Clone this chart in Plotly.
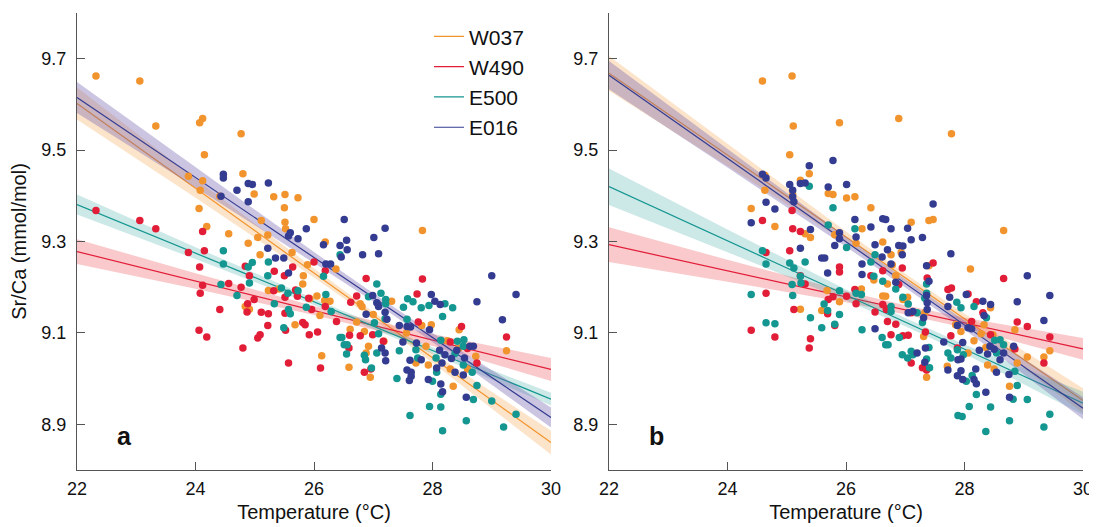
import plotly.graph_objects as go
from plotly.subplots import make_subplots

# Sr/Ca vs temperature, panel a and panel b, (temperature, Sr/Ca) pairs
a_w037 = [(22.32, 9.662), (23.06, 9.651), (23.33, 9.553), (24.07, 9.560), (24.12, 9.569), (24.15, 9.490),
          (24.77, 9.536), (23.88, 9.443), (24.08, 9.412), (24.12, 9.433), (24.80, 9.448), (24.99, 9.404),
          (24.41, 9.399), (24.06, 9.372), (24.19, 9.333), (24.56, 9.317), (25.32, 9.398), (25.51, 9.403),
          (25.73, 9.396), (25.50, 9.374), (25.11, 9.346), (25.51, 9.342), (25.52, 9.328), (26.00, 9.348),
          (25.22, 9.314), (25.05, 9.309), (24.89, 9.296), (26.19, 9.299), (25.09, 9.271), (25.63, 9.276),
          (25.89, 9.249), (25.82, 9.225), (25.81, 9.207), (26.37, 9.240), (25.41, 9.196), (25.23, 9.193),
          (24.84, 9.158), (24.91, 9.152), (25.68, 9.118), (25.93, 9.175), (26.05, 9.181), (26.27, 9.169),
          (26.18, 9.171), (26.10, 9.138), (26.61, 9.108), (26.78, 9.164), (26.81, 9.158), (26.72, 9.124),
          (26.85, 9.103), (27.00, 9.140), (26.13, 9.050), (26.59, 9.025), (26.88, 9.056), (26.92, 9.071),
          (26.95, 9.003), (27.18, 9.082), (27.31, 9.169), (27.83, 9.324), (27.82, 9.116), (27.98, 9.118),
          (27.89, 9.071), (27.93, 9.030), (27.72, 9.034), (27.56, 9.100), (28.25, 9.083), (28.30, 9.021),
          (28.35, 8.983), (28.45, 9.107), (28.44, 9.066), (28.59, 9.021), (28.73, 9.049), (29.25, 9.061)]
a_w490 = [(22.32, 9.368), (23.06, 9.346), (23.33, 9.328), (23.88, 9.276), (24.12, 9.322), (24.15, 9.280),
          (24.07, 9.244), (24.12, 9.204), (24.08, 9.187), (24.41, 9.151), (24.06, 9.106), (24.19, 9.091),
          (24.56, 9.208), (24.77, 9.200), (24.84, 9.246), (24.91, 9.225), (24.88, 9.164), (24.87, 9.146),
          (24.80, 9.067), (24.99, 9.173), (25.11, 9.145), (25.23, 9.142), (25.22, 9.116), (25.09, 9.096),
          (25.05, 9.089), (25.32, 9.192), (25.33, 9.235), (25.50, 9.225), (25.64, 9.244), (25.51, 9.178),
          (25.51, 9.143), (25.52, 9.106), (25.72, 9.180), (25.69, 9.194), (25.57, 9.034), (25.81, 9.123),
          (25.85, 9.118), (25.91, 9.176), (25.96, 9.151), (25.92, 9.096), (26.00, 9.255), (26.06, 9.102),
          (26.11, 9.023), (26.19, 9.236), (26.19, 9.158), (26.38, 9.125), (26.60, 9.095), (26.62, 9.167),
          (26.59, 9.067), (26.72, 9.181), (26.78, 9.094), (26.85, 9.014), (26.88, 9.219), (26.96, 9.021),
          (26.99, 9.096), (27.17, 9.082), (27.74, 9.185), (27.76, 9.124), (27.83, 9.218), (28.30, 9.080),
          (28.49, 9.114), (28.59, 9.066), (28.75, 9.034), (29.25, 9.091)]
a_e500 = [(24.47, 9.280), (24.47, 9.251), (24.43, 9.206), (24.70, 9.182), (24.96, 9.254), (24.89, 9.244),
          (24.91, 9.209), (25.23, 9.255), (25.22, 9.225), (25.33, 9.164), (25.45, 9.198), (25.49, 9.111),
          (25.56, 9.187), (25.57, 9.151), (25.60, 9.142), (25.73, 9.192), (25.87, 9.156), (26.16, 9.224),
          (26.20, 9.184), (26.29, 9.147), (26.44, 9.271), (26.44, 9.090), (26.47, 9.090), (26.51, 9.074),
          (26.56, 9.074), (26.55, 9.054), (26.85, 9.051), (26.87, 9.041), (26.97, 9.023), (26.92, 9.179),
          (27.06, 9.207), (27.13, 9.187), (27.02, 9.122), (27.09, 9.098), (27.06, 9.056), (27.21, 9.173),
          (27.21, 9.164), (27.20, 9.131), (27.40, 9.000), (27.44, 9.061), (27.51, 9.156), (27.58, 9.175),
          (27.57, 9.130), (27.67, 9.168), (27.62, 8.919), (27.72, 9.063), (27.75, 9.045), (27.81, 9.155),
          (27.94, 9.160), (28.00, 8.994), (27.95, 8.939), (28.06, 9.045), (28.07, 9.014), (28.14, 9.084),
          (28.14, 8.966), (28.14, 8.938), (28.17, 8.886), (28.17, 9.136), (28.21, 9.164), (28.34, 9.155),
          (28.38, 9.055), (28.42, 9.082), (28.52, 9.071), (28.53, 9.085), (28.52, 9.030), (28.57, 8.908),
          (28.67, 9.014), (28.69, 8.954), (28.75, 8.985), (29.00, 8.951), (29.20, 8.894), (29.41, 8.922)]
a_e016 = [(24.47, 9.447), (24.47, 9.439), (24.43, 9.399), (24.70, 9.412), (24.89, 9.427), (24.96, 9.425),
          (24.89, 9.387), (25.23, 9.428), (25.60, 9.319), (25.57, 9.312), (25.73, 9.306), (25.87, 9.328),
          (25.22, 9.285), (25.35, 9.264), (25.49, 9.264), (25.57, 9.231), (26.16, 9.293), (26.20, 9.251),
          (26.28, 9.251), (26.51, 9.348), (26.55, 9.303), (26.56, 9.282), (26.44, 9.291), (26.46, 9.266),
          (26.82, 9.271), (27.01, 9.309), (27.09, 9.273), (27.20, 9.329), (26.99, 9.182), (26.88, 9.141),
          (27.06, 9.166), (27.09, 9.158), (27.20, 9.145), (27.23, 9.130), (27.14, 9.067), (27.21, 9.039),
          (27.20, 9.056), (27.44, 9.116), (27.50, 9.080), (27.57, 9.114), (27.63, 9.113), (27.62, 9.040),
          (27.57, 9.019), (27.64, 9.014), (27.64, 9.005), (27.61, 8.996), (27.73, 9.078), (27.81, 9.041),
          (27.98, 9.184), (28.04, 9.169), (28.13, 9.162), (27.95, 9.107), (27.93, 8.998), (28.07, 9.023),
          (28.12, 9.062), (28.16, 9.034), (28.14, 8.988), (28.17, 8.971), (28.21, 9.052), (28.32, 9.044),
          (28.38, 9.014), (28.41, 9.062), (28.52, 9.008), (28.54, 9.045), (28.57, 8.959), (28.63, 9.071),
          (28.69, 9.071), (28.75, 9.168), (29.00, 9.225), (29.18, 9.129), (29.41, 9.184)]

b_w037 = [(24.59, 9.651), (25.09, 9.662), (25.11, 9.553), (25.89, 9.560), (26.89, 9.569), (27.78, 9.536),
          (25.05, 9.490), (25.38, 9.448), (24.63, 9.445), (25.23, 9.434), (24.63, 9.412), (25.10, 9.403),
          (25.70, 9.405), (25.78, 9.403), (26.01, 9.395), (26.15, 9.398), (24.40, 9.372), (26.42, 9.374),
          (24.80, 9.333), (27.40, 9.346), (27.47, 9.348), (27.10, 9.342), (26.27, 9.328), (25.40, 9.309),
          (25.31, 9.317), (25.81, 9.315), (26.17, 9.296), (26.62, 9.299), (28.66, 9.324), (26.76, 9.271),
          (26.93, 9.276), (26.78, 9.249), (28.10, 9.240), (27.40, 9.247), (26.47, 9.216), (26.84, 9.225),
          (26.70, 9.207), (26.26, 9.196), (25.68, 9.193), (26.62, 9.181), (26.67, 9.180), (25.89, 9.168),
          (25.59, 9.149), (25.23, 9.152), (27.04, 9.178), (26.96, 9.173), (27.33, 9.144), (27.85, 9.118),
          (27.94, 9.103), (28.06, 9.056), (28.10, 9.118), (28.16, 9.083), (28.33, 9.118), (28.28, 9.098),
          (28.36, 9.068), (28.39, 9.030), (28.44, 9.155), (28.48, 9.096), (28.50, 9.021), (28.82, 9.067),
          (28.85, 9.107), (28.76, 8.983), (28.89, 9.034), (29.06, 9.047), (29.34, 9.047), (29.44, 9.061),
          (27.31, 9.092), (27.36, 9.003), (27.71, 9.027)]
b_w490 = [(24.59, 9.346), (24.65, 9.276), (25.09, 9.368), (25.10, 9.328), (25.23, 9.322), (25.05, 9.280),
          (24.65, 9.187), (24.40, 9.106), (24.80, 9.091), (25.12, 9.151), (25.23, 9.225), (25.31, 9.207),
          (25.40, 9.087), (25.38, 9.067), (25.70, 9.173), (25.69, 9.142), (25.78, 9.179), (25.81, 9.116),
          (25.89, 9.244), (25.89, 9.233), (26.01, 9.180), (26.15, 9.195), (26.17, 9.164), (26.42, 9.225),
          (26.49, 9.146), (26.62, 9.236), (26.62, 9.162), (26.68, 9.151), (26.70, 9.125), (26.76, 9.096),
          (26.84, 9.119), (26.89, 9.206), (26.95, 9.242), (26.96, 9.094), (27.05, 9.095), (27.10, 9.144),
          (27.10, 9.034), (27.29, 9.024), (27.36, 9.019), (27.34, 9.102), (27.37, 9.220), (27.47, 9.253),
          (27.72, 9.195), (27.78, 9.198), (27.77, 9.094), (27.88, 9.067), (28.06, 9.185), (28.12, 9.125),
          (28.20, 9.168), (28.31, 9.144), (28.44, 9.096), (28.66, 9.219), (28.89, 9.124), (28.85, 9.065),
          (29.06, 9.114), (29.34, 9.034), (29.44, 9.091)]
b_e500 = [(24.40, 9.184), (24.59, 9.280), (24.65, 9.251), (24.65, 9.122), (24.80, 9.120), (25.05, 9.253),
          (25.12, 9.242), (25.09, 9.206), (25.10, 9.182), (25.23, 9.224), (25.24, 9.209), (25.31, 9.255),
          (25.38, 9.421), (25.40, 9.133), (25.59, 9.111), (25.63, 9.163), (25.69, 9.149), (25.70, 9.336),
          (25.78, 9.374), (25.81, 9.119), (25.89, 9.192), (25.89, 9.140), (26.01, 9.287), (26.15, 9.328),
          (26.17, 9.187), (26.26, 9.184), (26.27, 9.107), (26.42, 9.255), (26.49, 9.271), (26.47, 9.224),
          (26.62, 9.213), (26.61, 9.090), (26.67, 9.074), (26.71, 9.074), (26.76, 9.158), (26.76, 9.147),
          (26.84, 9.196), (26.90, 9.090), (26.95, 9.052), (26.96, 9.178), (27.04, 9.045), (27.05, 9.163),
          (27.10, 9.060), (27.13, 9.052), (27.20, 9.144), (27.29, 9.123), (27.33, 9.176), (27.36, 9.207),
          (27.36, 9.187), (27.36, 9.043), (27.40, 9.068), (27.41, 9.024), (27.72, 9.056), (27.77, 9.045),
          (27.87, 9.167), (27.88, 9.063), (27.89, 8.919), (27.96, 8.917), (27.98, 9.052), (27.94, 9.155),
          (28.03, 8.994), (28.08, 8.939), (28.13, 9.007), (28.16, 9.158), (28.20, 8.965), (28.36, 8.884),
          (28.37, 9.133), (28.44, 8.938), (28.51, 9.084), (28.60, 9.085), (28.54, 9.056), (28.76, 8.908),
          (28.82, 8.955), (28.85, 9.016), (28.89, 8.985), (29.06, 8.954), (29.34, 8.894), (29.44, 8.922),
          (28.66, 9.074)]
b_e016 = [(24.40, 9.341), (24.59, 9.447), (24.65, 9.439), (24.65, 9.386), (24.80, 9.371), (25.05, 9.425),
          (25.10, 9.412), (25.10, 9.398), (25.12, 9.387), (25.23, 9.427), (25.31, 9.428), (25.38, 9.466),
          (25.40, 9.326), (25.23, 9.285), (25.59, 9.264), (25.64, 9.264), (25.69, 9.231), (25.70, 9.419),
          (25.78, 9.477), (25.81, 9.291), (25.89, 9.319), (25.89, 9.306), (26.01, 9.425), (26.15, 9.348),
          (26.17, 9.310), (26.27, 9.251), (26.27, 9.228), (26.42, 9.332), (26.49, 9.293), (26.49, 9.109),
          (26.62, 9.350), (26.67, 9.348), (26.61, 9.266), (26.70, 9.282), (26.76, 9.328), (26.76, 9.251),
          (26.84, 9.211), (26.89, 9.291), (26.96, 9.290), (26.95, 9.271), (27.04, 9.329), (27.10, 9.304),
          (27.05, 9.144), (27.13, 9.147), (27.20, 9.056), (27.29, 9.309), (27.31, 9.133), (27.36, 9.247),
          (27.36, 9.182), (27.37, 9.166), (27.37, 9.151), (27.40, 9.213), (27.34, 9.067), (27.33, 9.036),
          (27.47, 9.382), (27.65, 9.080), (27.72, 9.019), (27.77, 9.273), (27.75, 9.178), (27.72, 9.158),
          (27.88, 9.116), (27.89, 9.041), (27.94, 9.043), (27.97, 9.079), (27.94, 9.017), (27.97, 8.998),
          (27.88, 9.006), (28.06, 9.111), (28.03, 9.184), (28.12, 9.109), (28.16, 8.998), (28.19, 9.021),
          (28.20, 8.989), (28.25, 9.062), (28.31, 9.169), (28.33, 9.138), (28.36, 8.970), (28.39, 9.054),
          (28.44, 9.162), (28.43, 9.071), (28.50, 9.064), (28.54, 9.014), (28.60, 9.041), (28.66, 9.056),
          (28.75, 9.009), (28.76, 8.959), (28.83, 9.071), (28.89, 9.168), (29.06, 9.225), (29.34, 9.127),
          (29.44, 9.182)]

# regression lines: Sr/Ca at 22 and 30 degC
fit_x = [22, 30]
a_fit = {"W037": [9.602, 8.860], "W490": [9.278, 9.020], "E500": [9.381, 8.955], "E016": [9.615, 8.915]}
b_fit = {"W037": [9.668, 8.952], "W490": [9.293, 9.065], "E500": [9.420, 8.946], "E016": [9.664, 8.935]}

# confidence band half widths
band_x = [22, 24, 26, 27, 28, 30]
a_hw = {"W037": [0.035, 0.021, 0.010, 0.008, 0.011, 0.026],
        "W490": [0.027, 0.017, 0.010, 0.010, 0.013, 0.025],
        "E500": [0.022, 0.013, 0.007, 0.006, 0.007, 0.014],
        "E016": [0.034, 0.022, 0.012, 0.009, 0.010, 0.022]}
b_hw = {"W037": [0.038, 0.024, 0.012, 0.009, 0.011, 0.027],
        "W490": [0.038, 0.024, 0.012, 0.010, 0.011, 0.024],
        "E500": [0.040, 0.025, 0.012, 0.009, 0.010, 0.025],
        "E016": [0.031, 0.020, 0.011, 0.009, 0.010, 0.024]}

sites = ["W037", "W490", "E500", "E016"]
colors = {"W037": "rgb(242,148,46)", "W490": "rgb(226,29,56)",
          "E500": "rgb(20,150,145)", "E016": "rgb(52,60,145)"}
band_colors = {"W037": "rgba(247,170,90,0.32)", "W490": "rgba(232,60,70,0.28)",
               "E500": "rgba(40,160,155,0.24)", "E016": "rgba(110,95,175,0.36)"}

FONT = "Liberation Sans, Arial, Helvetica, sans-serif"

fig = make_subplots(rows=1, cols=2)

panels = [(1, a_fit, a_hw, {"W037": a_w037, "W490": a_w490, "E500": a_e500, "E016": a_e016}),
          (2, b_fit, b_hw, {"W037": b_w037, "W490": b_w490, "E500": b_e500, "E016": b_e016})]

for col, fits, hws, pts in panels:
    for s in sites:
        y0, y1 = fits[s]
        centre = [y0 + (y1 - y0) * (x - 22) / 8 for x in band_x]
        upper = [c + h for c, h in zip(centre, hws[s])]
        lower = [c - h for c, h in zip(centre, hws[s])]
        fig.add_trace(go.Scatter(
            x=band_x + band_x[::-1], y=upper + lower[::-1],
            fill="toself", fillcolor=band_colors[s], line=dict(width=0),
            mode="lines", showlegend=False, hoverinfo="skip"), row=1, col=col)
        fig.add_trace(go.Scatter(
            x=fit_x, y=fits[s], mode="lines", name=s, legendgroup=s,
            line=dict(color=colors[s], width=1.2),
            showlegend=(col == 1)), row=1, col=col)
    for s in sites:
        fig.add_trace(go.Scatter(
            x=[p[0] for p in pts[s]], y=[p[1] for p in pts[s]],
            mode="markers", marker=dict(size=7.5, color=colors[s]),
            showlegend=False), row=1, col=col)

axis_common = dict(
    range=[22, 30], tickvals=[22, 24, 26, 28, 30], ticks="inside", ticklen=8,
    tickcolor="#555", showline=True, linecolor="#555", linewidth=1.3, automargin=False,
    showgrid=False, zeroline=False, tickfont=dict(size=18, color="#111", family=FONT),
    ticklabelstandoff=2,
    title=dict(text="Temperature (°C)", font=dict(size=20, color="#111", family=FONT), standoff=7))
yaxis_common = dict(
    range=[8.8, 9.8], tickvals=[8.9, 9.1, 9.3, 9.5, 9.7], ticktext=["8.9", "9.1", "9.3", "9.5", "9.7"],
    ticks="inside", ticklen=8, tickcolor="#555", showline=True, linecolor="#555", linewidth=1.3,
    automargin=False, showgrid=False, zeroline=False,
    tickfont=dict(size=18, color="#111", family=FONT), ticklabelstandoff=6)

# the page adds an 8 px body margin, so the figure is 8 px smaller and everything is shifted back
OFF = 8
L, R, T, B = 77 - OFF, 14, 13 - OFF, 57
FW, FH = 1097 - OFF, 527 - OFF
W = FW - L - R
fig.update_xaxes(**axis_common)
fig.update_yaxes(**yaxis_common)
fig.update_layout(
    xaxis=dict(domain=[0, 474 / W]),
    xaxis2=dict(domain=[(609 - 77) / W, 1]),
    yaxis=dict(title=dict(text="Sr/Ca (mmol/mol)", font=dict(size=20, color="#111", family=FONT), standoff=11)),
    width=FW, height=FH,
    margin=dict(l=L, r=R, t=T, b=B),
    plot_bgcolor="white", paper_bgcolor="white",
    font=dict(family=FONT, color="#111"),
    legend=dict(x=(429 - 77) / W, y=0.993, xanchor="left", yanchor="top",
                bgcolor="rgba(0,0,0,0)", font=dict(size=21, family=FONT, color="#111"),
                tracegroupgap=0),
)

fig.add_annotation(x=22.8, y=8.875, xref="x", yref="y", text="<b>a</b>", showarrow=False,
                   font=dict(size=25, color="#111", family=FONT))
fig.add_annotation(x=22.8, y=8.875, xref="x2", yref="y2", text="<b>b</b>", showarrow=False,
                   font=dict(size=25, color="#111", family=FONT))

fig.write_html("out.html")
